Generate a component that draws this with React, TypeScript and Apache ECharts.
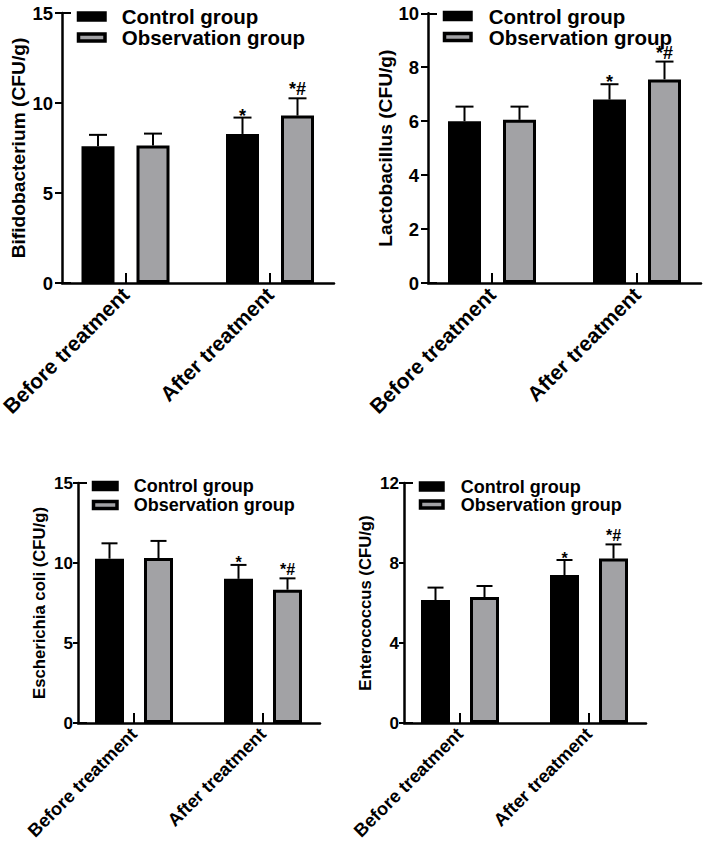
import React, { useEffect, useRef } from "react";
import * as echarts from "echarts";

// ---------- data ----------
const categories = ["Before treatment", "After treatment"];
const seriesNames = ["Control group", "Observation group"];

const bifidoControl = [7.6, 8.28];
const bifidoControlErr = [0.63, 0.91];
const bifidoObs = [7.64, 9.3];
const bifidoObsErr = [0.66, 0.96];

const lactoControl = [6.0, 6.8];
const lactoControlErr = [0.54, 0.57];
const lactoObs = [6.05, 7.55];
const lactoObsErr = [0.49, 0.66];

const ecoliControl = [10.27, 9.01];
const ecoliControlErr = [0.96, 0.87];
const ecoliObs = [10.31, 8.33];
const ecoliObsErr = [1.07, 0.71];

const enteroControl = [6.15, 7.4];
const enteroControlErr = [0.62, 0.75];
const enteroObs = [6.3, 8.22];
const enteroObsErr = [0.55, 0.71];

const controlMarks = ["", "*"];
const obsMarks = ["", "*#"];

const yTitles = [
  "Bifidobacterium (CFU/g)",
  "Lactobacillus (CFU/g)",
  "Escherichia coli (CFU/g)",
  "Enterococcus (CFU/g)",
];
const yMax = [15, 10, 15, 12];
const yInterval = [5, 2, 5, 4];

// ---------- layout / style ----------
const FONT = "'Liberation Sans', Arial, Helvetica, sans-serif";
const GRAY = "#a2a2a5";

const panels = [
  { axisX: 62, axisEnd: 334, top: 13, bottom: 283, barLeft: 53.25, band: 144.5, bw: 33, offset: 27.5, tickFs: 18.5, legFs: 20.5, titleFs: 19.2, xFs: 21, annFs: 18, cap: 9, tickLen: 7, labMargin: 9, nameGap: 34, lg: { left: 76.75, top: 6, w: 26.5, pad: 11.75, lh: 19 } },
  { axisX: 428, axisEnd: 701, top: 13.3, bottom: 283, barLeft: 419.5, band: 145, bw: 33, offset: 27.5, tickFs: 18.5, legFs: 20.5, titleFs: 19.2, xFs: 21, annFs: 18, cap: 9, tickLen: 7, labMargin: 9, nameGap: 31, lg: { left: 442.75, top: 5.5, w: 26.5, pad: 12.75, lh: 19 } },
  { axisX: 78, axisEnd: 320, top: 483, bottom: 723, barLeft: 69.5, band: 129, bw: 29, offset: 24.5, tickFs: 17, legFs: 18, titleFs: 16.7, xFs: 18.2, annFs: 16, cap: 8, tickLen: 5, labMargin: 5, nameGap: 30, lg: { left: 91.75, top: 476.5, w: 23.5, pad: 11.75, lh: 19 } },
  { axisX: 404, axisEnd: 646, top: 483, bottom: 723, barLeft: 395.5, band: 129, bw: 29, offset: 24.5, tickFs: 17, legFs: 18, titleFs: 16.7, xFs: 18.2, annFs: 16, cap: 8, tickLen: 5, labMargin: 5, nameGap: 30, lg: { left: 418.75, top: 477.5, w: 22.5, pad: 12.75, lh: 17 } },
];

const panelData = [
  { c: bifidoControl, ce: bifidoControlErr, o: bifidoObs, oe: bifidoObsErr },
  { c: lactoControl, ce: lactoControlErr, o: lactoObs, oe: lactoObsErr },
  { c: ecoliControl, ce: ecoliControlErr, o: ecoliObs, oe: ecoliObsErr },
  { c: enteroControl, ce: enteroControlErr, o: enteroObs, oe: enteroObsErr },
];

function buildOption() {
  const grid: any[] = [];
  const xAxis: any[] = [];
  const yAxis: any[] = [];
  const series: any[] = [];
  const legend: any[] = [];

  panels.forEach((p, k) => {
    const d = panelData[k];
    const h = p.bottom - p.top;
    const gA = grid.length;
    grid.push({ left: p.barLeft, top: p.top, width: p.band * 2, height: h, outerBoundsMode: "none", containLabel: false });
    const gB = grid.length;
    grid.push({ left: p.axisX, top: p.top, width: p.axisEnd - p.axisX, height: h, outerBoundsMode: "none", containLabel: false });

    const xA = xAxis.length;
    xAxis.push({
      type: "category",
      gridIndex: gA,
      data: categories,
      axisLine: { show: false },
      axisTick: { show: true, inside: true, length: 10, alignWithLabel: true, lineStyle: { color: "#000", width: 2 } },
      axisLabel: { rotate: 45, interval: 0, margin: 8, fontSize: p.xFs, fontWeight: "bold", color: "#000", fontFamily: FONT },
      splitLine: { show: false },
    });
    const xB = xAxis.length;
    xAxis.push({
      type: "value",
      gridIndex: gB,
      min: 0,
      max: 1,
      axisLine: { show: true, onZero: false, lineStyle: { color: "#000", width: 2.5 } },
      axisTick: { show: false },
      axisLabel: { show: false },
      splitLine: { show: false },
    });
    const yA = yAxis.length;
    yAxis.push({ type: "value", gridIndex: gA, min: 0, max: yMax[k], interval: yInterval[k], show: false, splitLine: { show: false } });
    const yB = yAxis.length;
    yAxis.push({
      type: "value",
      gridIndex: gB,
      min: 0,
      max: yMax[k],
      interval: yInterval[k],
      name: yTitles[k],
      nameLocation: "middle",
      nameGap: p.nameGap,
      nameTextStyle: { fontSize: p.titleFs, fontWeight: "bold", color: "#000", fontFamily: FONT },
      axisLine: { show: true, onZero: false, lineStyle: { color: "#000", width: 2.5 } },
      axisTick: { show: true, length: p.tickLen, lineStyle: { color: "#000", width: 2 } },
      axisLabel: { margin: p.labMargin, fontSize: p.tickFs, fontWeight: "bold", color: "#000", fontFamily: FONT },
      splitLine: { show: false },
    });
    // inner tick at the top end of the y axis (bottom one hides under the x axis line)
    yAxis.push({
      type: "value",
      gridIndex: gB,
      position: "left",
      min: 0,
      max: yMax[k],
      interval: yMax[k],
      axisLine: { show: false },
      axisTick: { show: true, inside: true, length: 9, lineStyle: { color: "#000", width: 2 } },
      axisLabel: { show: false },
      splitLine: { show: false },
    });
    series.push({ type: "line", xAxisIndex: xB, yAxisIndex: yB, data: [], silent: true });

    const gap = ((2 * p.offset - p.bw) / p.bw) * 100 + "%";
    series.push({
      name: seriesNames[0],
      type: "bar",
      xAxisIndex: xA,
      yAxisIndex: yA,
      data: d.c,
      barWidth: p.bw,
      barGap: gap,
      itemStyle: { color: "#000", borderColor: "#000", borderWidth: 3 },
      z: 2,
    });
    series.push({
      name: seriesNames[1],
      type: "bar",
      xAxisIndex: xA,
      yAxisIndex: yA,
      data: d.o,
      barWidth: p.bw,
      barGap: gap,
      itemStyle: { color: GRAY, borderColor: "#000", borderWidth: 3 },
      z: 2,
    });

    const mk = (means: number[], errs: number[], marks: string[], sign: number) => ({
      type: "custom",
      xAxisIndex: xA,
      yAxisIndex: yA,
      z: 5,
      silent: true,
      data: means.map((m, i) => [i, m, m + errs[i]]),
      renderItem: (params: any, api: any) => {
        const i = api.value(0);
        const b = api.coord([i, api.value(1)]);
        const t = api.coord([i, api.value(2)]);
        const x = b[0] + sign * p.offset;
        const children: any[] = [
          { type: "line", shape: { x1: x, y1: b[1], x2: x, y2: t[1] }, style: { stroke: "#000", lineWidth: 2 } },
          { type: "line", shape: { x1: x - p.cap, y1: t[1], x2: x + p.cap, y2: t[1] }, style: { stroke: "#000", lineWidth: 2 } },
        ];
        const m = marks[params.dataIndex];
        if (m) {
          children.push({
            type: "text",
            style: {
              text: m,
              x: x,
              y: m === "*" ? t[1] - 2 : t[1] - 9,
              align: "center",
              verticalAlign: "middle",
              fontSize: p.annFs,
              fontWeight: "bold",
              fontFamily: FONT,
              fill: "#000",
            },
          });
        }
        return { type: "group", children };
      },
    });
    series.push(mk(d.c, d.ce, controlMarks, -1));
    series.push(mk(d.o, d.oe, obsMarks, 1));

    legend.push({
      left: p.lg.left,
      top: p.lg.top,
      orient: "vertical",
      padding: 0,
      itemGap: 0,
      itemWidth: p.lg.w,
      itemHeight: 7,
      selectedMode: false,
      textStyle: { fontSize: p.legFs, fontWeight: "bold", color: "#000", fontFamily: FONT, lineHeight: p.lg.lh, padding: [0, 0, 0, p.lg.pad] },
      data: [
        { name: seriesNames[0], icon: "rect", itemStyle: { color: "#000", borderColor: "#000", borderWidth: 3.5 } },
        { name: seriesNames[1], icon: "rect", itemStyle: { color: GRAY, borderColor: "#000", borderWidth: 3.5 } },
      ],
    });
  });

  return { animation: false, backgroundColor: "#fff", grid, xAxis, yAxis, series, legend };
}

export default function App() {
  const ref = useRef<HTMLDivElement>(null);
  useEffect(() => {
    document.body.style.margin = "0";
    const chart = echarts.init(ref.current!, null, { renderer: "svg" });
    chart.setOption(buildOption() as any);
    return () => chart.dispose();
  }, []);
  return <div ref={ref} style={{ width: 708, height: 848 }} />;
}
